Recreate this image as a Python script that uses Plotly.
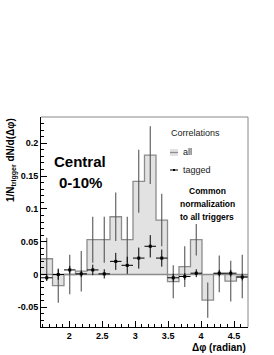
import numpy as np
import plotly.graph_objects as go

# ---------------- data ----------------
n_bins = 18
x_min = np.pi / 2
x_max = 3 * np.pi / 2

all_values = [0.024, -0.017, 0.000, 0.005, 0.053, 0.053, 0.088, 0.053, 0.142,
              0.182, 0.083, -0.011, 0.012, 0.053, -0.039, 0.001, -0.010, -0.003]
all_errors = [0.032, 0.026, 0.030, 0.031, 0.035, 0.035, 0.037, 0.035, 0.048,
              0.044, 0.040, 0.025, 0.031, 0.024, 0.027, 0.028, 0.031, 0.033]

tagged_values = [-0.005, 0.000, 0.007, 0.001, 0.007, 0.001, 0.020, 0.014, 0.025,
                 0.043, 0.025, -0.005, -0.003, 0.002, None, 0.002, 0.002, -0.004]
tagged_errors = [0.005, 0.008, 0.006, 0.005, 0.008, 0.007, 0.013, 0.013, 0.016,
                 0.017, 0.013, 0.006, 0.005, 0.006, None, 0.005, 0.005, 0.005]

x_tick_vals = [2, 2.5, 3, 3.5, 4, 4.5]
x_tick_text = ["2", "2.5", "3", "3.5", "4", "4.5"]
y_tick_vals = [-0.05, 0, 0.05, 0.1, 0.15, 0.2]
y_tick_text = ["-0.05", "0", "0.05", "0.1", "0.15", "0.2"]

# ---------------- derived ----------------
edges = np.linspace(x_min, x_max, n_bins + 1)
centers = 0.5 * (edges[:-1] + edges[1:])
half_w = 0.5 * (edges[1] - edges[0])

W, H = 274, 355
L, R, T, B = 41, 26, 117, 28
pw = W - L - R
ph = H - T - B


def px(x, y):
    return (x - L) / pw, (H - B - y) / ph


FONT = "Liberation Sans, Arial, Helvetica, sans-serif"
FILL = "#e2e2e2"
LINE = "#8c8c8c"

fig = go.Figure()

# histogram "all" (step, filled to zero)
fig.add_trace(go.Scatter(
    x=list(edges), y=list(all_values) + [all_values[-1]],
    mode="lines", line=dict(shape="hv", color=LINE, width=1.3),
    fill="tozeroy", fillcolor=FILL, showlegend=False, hoverinfo="skip"))

# zero line
fig.add_trace(go.Scatter(
    x=[x_min, x_max], y=[0, 0], mode="lines",
    line=dict(color=LINE, width=1.5), showlegend=False, hoverinfo="skip"))

# error bars of "all"
fig.add_trace(go.Scatter(
    x=centers, y=all_values, mode="markers",
    marker=dict(size=1, color="rgba(0,0,0,0)"),
    error_y=dict(type="data", array=all_errors, color="#555555",
                 thickness=1.1, width=0),
    showlegend=False, hoverinfo="skip"))

# tagged
fig.add_trace(go.Scatter(
    x=centers, y=tagged_values, mode="markers",
    marker=dict(size=3, color="black", symbol="square"),
    error_x=dict(type="constant", value=half_w, color="black",
                 thickness=1, width=0),
    error_y=dict(type="data", array=tagged_errors, color="black",
                 thickness=1, width=0),
    showlegend=False, hoverinfo="skip"))

annotations = []


def add_text(text, x, y, size, bold=False, color="black", xanchor="center",
             yanchor="middle", angle=0):
    xp, yp = px(x, y)
    annotations.append(dict(
        text=text, x=xp, y=yp, xref="paper", yref="paper",
        xanchor=xanchor, yanchor=yanchor, showarrow=False, textangle=angle,
        font=dict(family=FONT, size=size, color=color,
                  weight="bold" if bold else "normal")))


add_text("Central", 80, 161, 15, bold=True)
add_text("0-10%", 80, 182, 15, bold=True)
add_text("Correlations", 169, 133, 9, color="#222", xanchor="left")
add_text("all", 181, 152, 9, color="#222", xanchor="left")
add_text("tagged", 181, 170, 9, color="#222", xanchor="left")
add_text("Common", 207, 191, 8.5, bold=True)
add_text("normalization", 207, 204, 8.5, bold=True)
add_text("to all triggers", 207, 217, 8.5, bold=True)
add_text("1/N<sub>trigger</sub> dN/d(Δφ)", 11, 160, 10, bold=True, angle=-90)
add_text("Δφ (radian)", 248, 347, 10, bold=True, xanchor="right")

shapes = []
# legend symbols
x0p, y0p = px(170, 149)
x1p, y1p = px(178, 156)
shapes.append(dict(type="rect", xref="paper", yref="paper", x0=x0p, x1=x1p,
                   y0=y0p, y1=y1p, fillcolor=FILL, line=dict(width=0)))
a, b = px(170, 152.5)
c, d = px(178, 152.5)
shapes.append(dict(type="line", xref="paper", yref="paper", x0=a, x1=c, y0=b,
                   y1=d, line=dict(color=LINE, width=1.3)))
a, b = px(170, 170)
c, d = px(178, 170)
shapes.append(dict(type="line", xref="paper", yref="paper", x0=a, x1=c, y0=b,
                   y1=d, line=dict(color="black", width=1)))
a, b = px(173, 169)
c, d = px(175, 171)
shapes.append(dict(type="rect", xref="paper", yref="paper", x0=a, x1=c, y0=d,
                   y1=b, fillcolor="black", line=dict(width=0)))
# top and right frame lines
shapes.append(dict(type="line", xref="paper", yref="paper", x0=0, x1=1, y0=1,
                   y1=1, line=dict(color="#888", width=1)))
shapes.append(dict(type="line", xref="paper", yref="paper", x0=1, x1=1, y0=0,
                   y1=1, line=dict(color="#888", width=1)))

fig.update_layout(
    width=W, height=H,
    margin=dict(l=L, r=R, t=T, b=B),
    paper_bgcolor="white", plot_bgcolor="white",
    showlegend=False,
    annotations=annotations, shapes=shapes,
    font=dict(family=FONT, color="black"),
)
fig.update_xaxes(
    range=[x_min, x_max], showgrid=False, zeroline=False,
    showline=True, linecolor="black", linewidth=1,
    ticks="inside", ticklen=6, tickcolor="black", tickwidth=1,
    tickvals=x_tick_vals, ticktext=x_tick_text,
    tickfont=dict(family=FONT, size=9, color="black", weight="bold"),
    minor=dict(ticks="inside", ticklen=3, dtick=0.1, tick0=0,
               tickcolor="black", showgrid=False),
)
fig.update_yaxes(
    range=[-0.08, 0.24], showgrid=False, zeroline=False,
    showline=True, linecolor="black", linewidth=1,
    ticks="inside", ticklen=6, tickcolor="black", tickwidth=1,
    tickvals=y_tick_vals, ticktext=y_tick_text,
    tickfont=dict(family=FONT, size=9, color="black", weight="bold"),
    minor=dict(ticks="inside", ticklen=3, dtick=0.01, tick0=0,
               tickcolor="black", showgrid=False),
)

fig.write_html("out.html", config={"displayModeBar": False},
               post_script="document.body.style.margin='0';"
                           "document.body.style.overflow='hidden';")
